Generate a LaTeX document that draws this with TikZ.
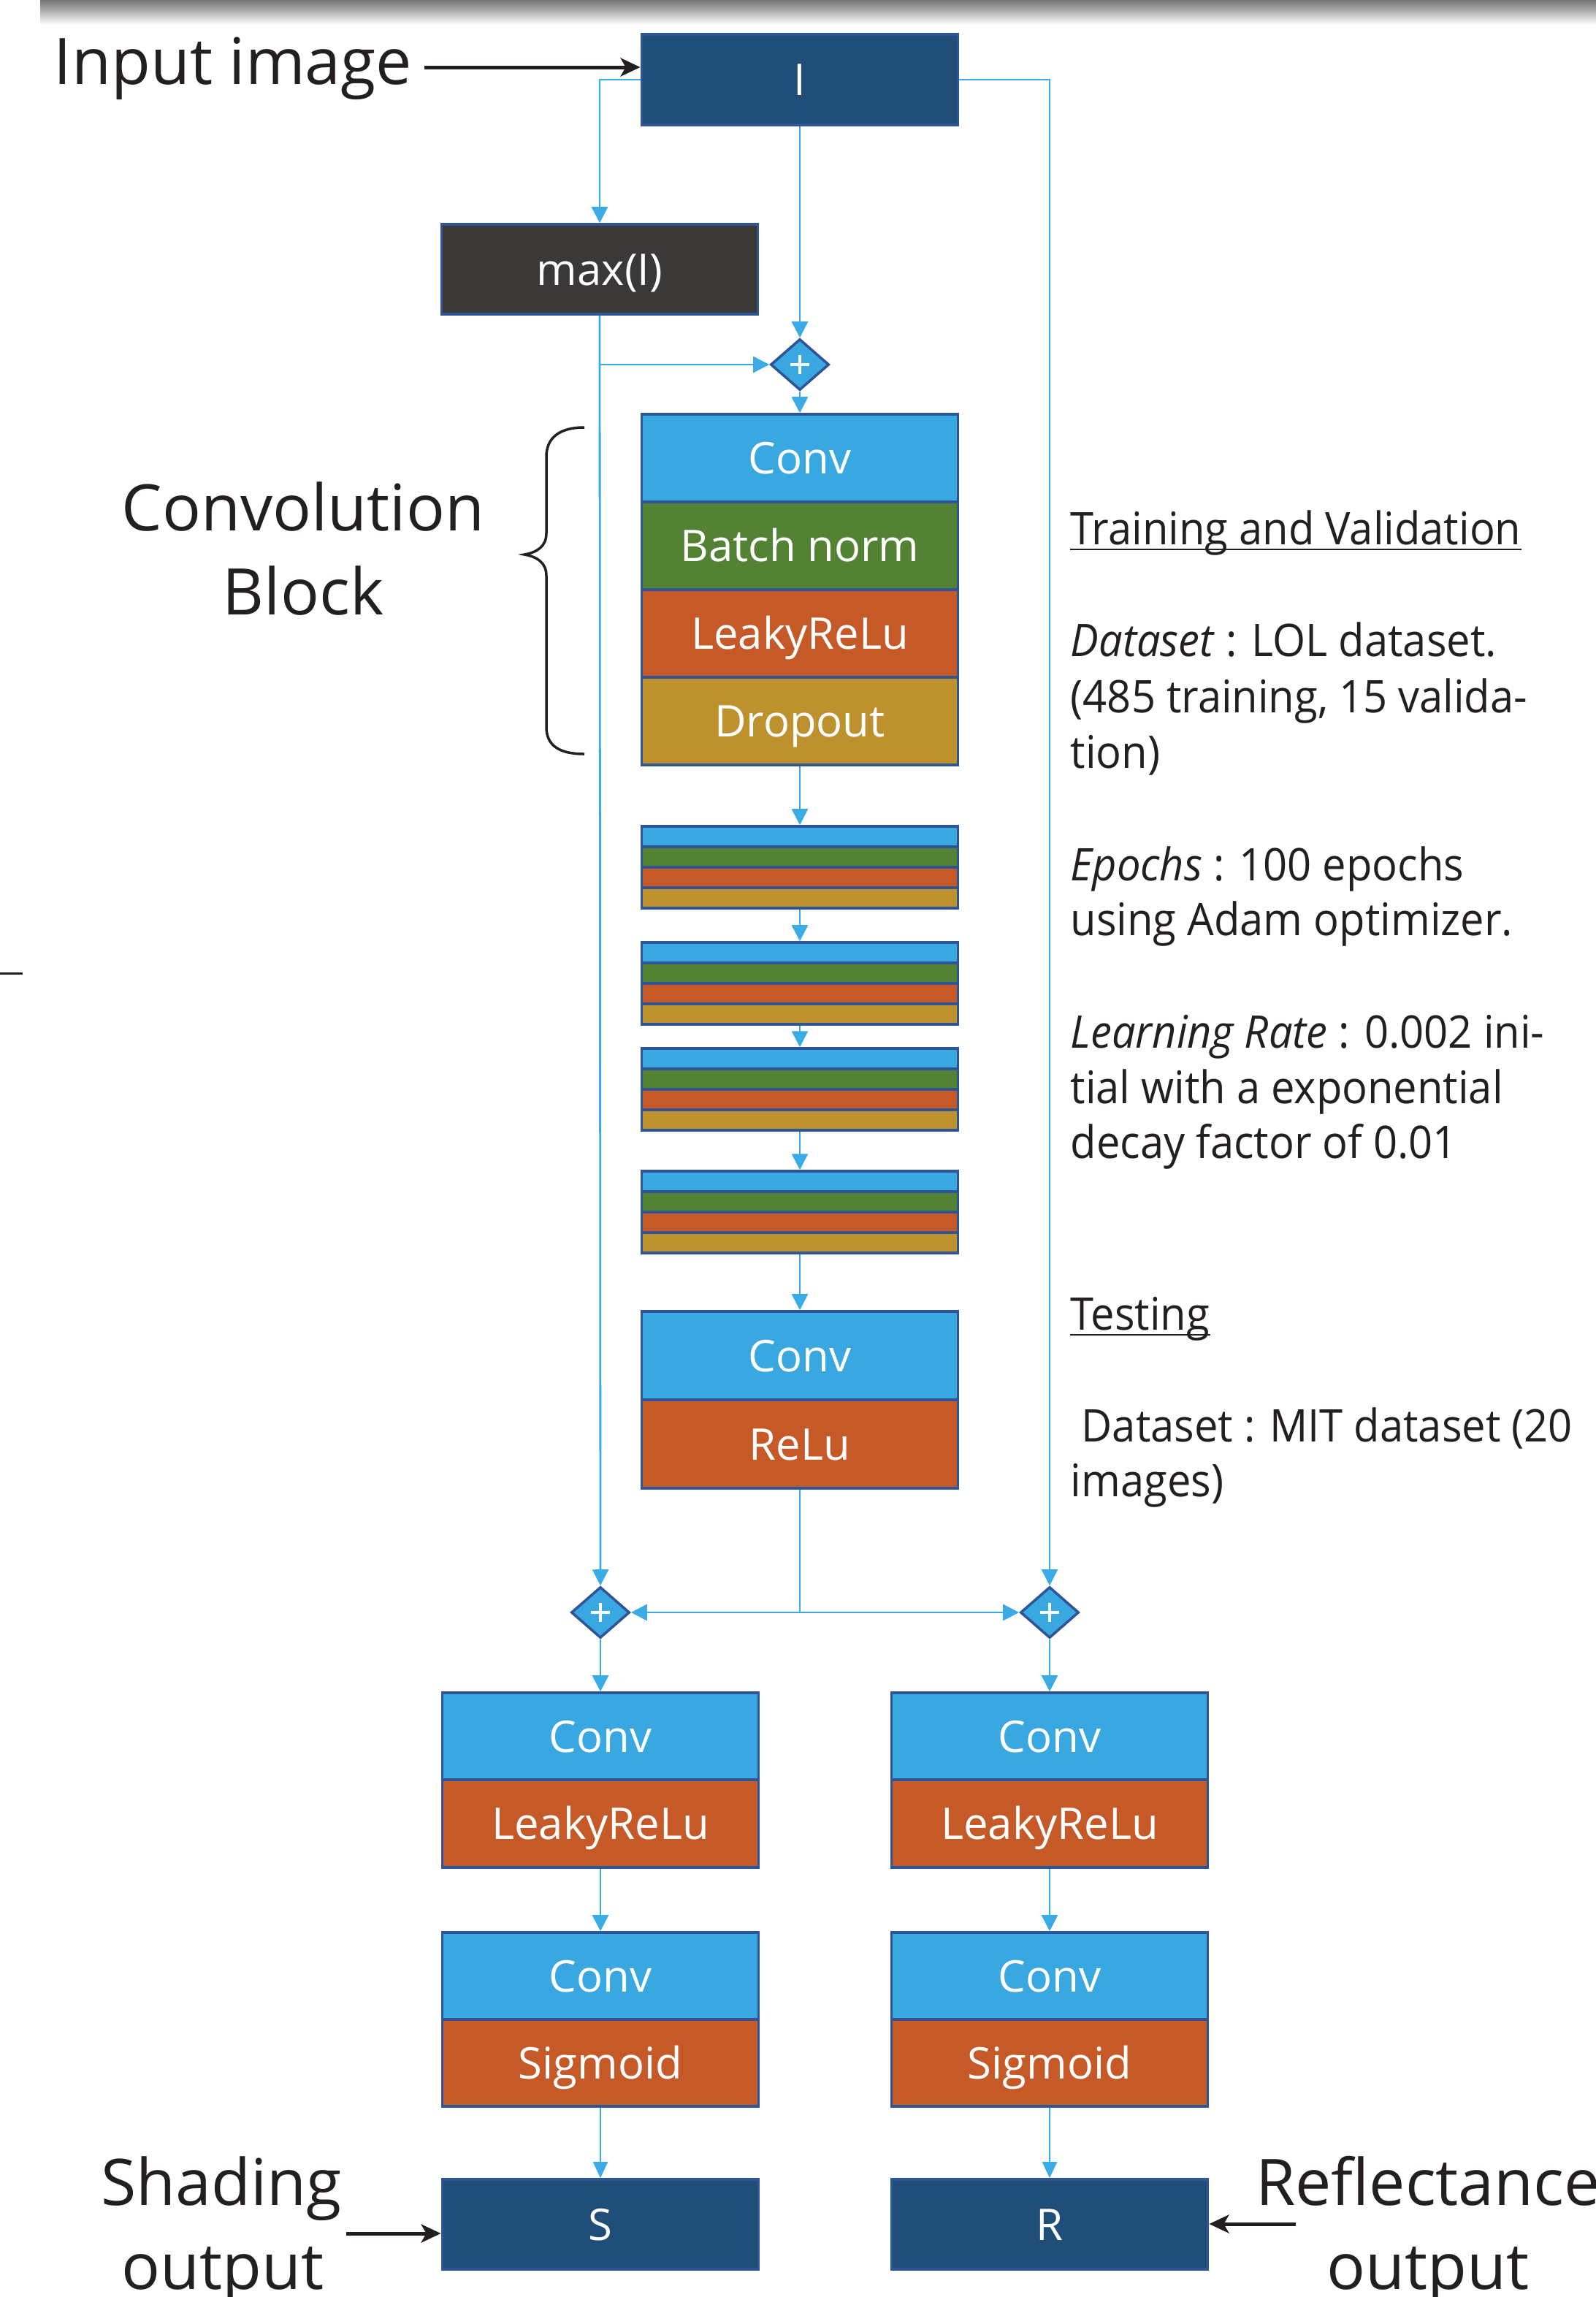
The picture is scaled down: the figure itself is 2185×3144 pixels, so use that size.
\documentclass[tikz,border=0pt]{standalone}
\usepackage{fontspec}
\setmainfont{Open Sans}
\newfontfamily\rtfont[FakeStretch=0.94]{Open Sans}
\usetikzlibrary{arrows.meta,shapes.geometric,calc}

\definecolor{navy}{HTML}{1F4E79}
\definecolor{darkbox}{HTML}{3B3838}
\definecolor{cblue}{HTML}{3AA8E0}
\definecolor{bngreen}{HTML}{548235}
\definecolor{lrorange}{HTML}{C55A28}
\definecolor{dgold}{HTML}{BE912F}
\definecolor{edge}{HTML}{2F5597}
\definecolor{wirec}{HTML}{3AABE4}
\definecolor{ink}{HTML}{231F20}

\tikzset{
  cell/.style={draw=edge, line width=0.035cm, minimum width=4.33cm, inner sep=0pt},
  layer/.style={cell, text=white, font=\fontsize{17pt}{20pt}\selectfont, text height=0.43cm, text depth=0pt},
  mini/.style={cell, minimum height=0.28cm, text height=0pt, text depth=0pt},
  plusnode/.style={shape=diamond, draw=edge, line width=0.035cm, fill=cblue, minimum width=0.8cm, minimum height=0.7cm, inner sep=0pt},
  wire/.style={draw=wirec, line width=0.028cm, -{Triangle[length=0.22cm,width=0.22cm]}},
  wireplain/.style={draw=wirec, line width=0.028cm},
  wirethin/.style={draw=wirec, line width=0.02cm, -{Triangle[length=0.22cm,width=0.2cm]}},
  blk/.style={draw=ink, line width=0.05cm, -{Stealth[length=0.27cm,width=0.25cm,inset=0.07cm]}},
  bigtxt/.style={inner sep=0pt, text=ink, font=\fontsize{25pt}{30pt}\selectfont},
  rtxt/.style={inner sep=0pt, text=ink, anchor=base west, font=\rtfont\fontsize{17.5pt}{21pt}\selectfont},
}

\begin{document}
\begin{tikzpicture}[x=0.01cm,y=-0.01cm]
\useasboundingbox (0,0) rectangle (2185,3144);
\shade[top color=black!55, bottom color=white] (55,0) rectangle (2185,34);

% main column
\node[layer, fill=navy, minimum height=1.24cm] (I) at (1095,109) {I};
\node[layer, fill=darkbox, minimum height=1.23cm] (max) at (821,368.5) {max(I)};
\node[plusnode] (p1) at (1095,499) {};

\node[layer, fill=cblue, minimum height=1.2cm] (c1) at (1095,627) {Conv};
\node[layer, fill=bngreen, minimum height=1.2cm] (c2) at (1095,747) {Batch norm};
\node[layer, fill=lrorange, minimum height=1.2cm] (c3) at (1095,867) {LeakyReLu};
\node[layer, fill=dgold, minimum height=1.2cm] (c4) at (1095,987) {Dropout};

\foreach \blk/\ty in {1/1131, 2/1290, 3/1435, 4/1603} {
  \node[mini, fill=cblue] (m\blk-a) at (1095,\ty+14) {};
  \node[mini, fill=bngreen] (m\blk-b) at (1095,\ty+42) {};
  \node[mini, fill=lrorange] (m\blk-c) at (1095,\ty+70) {};
  \node[mini, fill=dgold] (m\blk-d) at (1095,\ty+98) {};
}

\node[layer, fill=cblue, minimum height=1.21cm] (c5) at (1095,1855.5) {Conv};
\node[layer, fill=lrorange, minimum height=1.21cm] (c6) at (1095,1976.5) {ReLu};

\node[plusnode] (p2) at (822,2207) {};
\node[plusnode] (p3) at (1437,2207) {};

% lower branches
\node[layer, fill=cblue, minimum height=1.19cm] (l1) at (822,2376.5) {Conv};
\node[layer, fill=lrorange, minimum height=1.2cm] (l2) at (822,2496) {LeakyReLu};
\node[layer, fill=cblue, minimum height=1.19cm] (l3) at (822,2704.5) {Conv};
\node[layer, fill=lrorange, minimum height=1.19cm] (l4) at (822,2823.5) {Sigmoid};
\node[layer, fill=navy, minimum height=1.23cm] (S) at (822,3044.5) {S};

\node[layer, fill=cblue, minimum height=1.19cm] (r1) at (1437,2376.5) {Conv};
\node[layer, fill=lrorange, minimum height=1.2cm] (r2) at (1437,2496) {LeakyReLu};
\node[layer, fill=cblue, minimum height=1.19cm] (r3) at (1437,2704.5) {Conv};
\node[layer, fill=lrorange, minimum height=1.19cm] (r4) at (1437,2823.5) {Sigmoid};
\node[layer, fill=navy, minimum height=1.23cm] (R) at (1437,3044.5) {R};

% plus signs
\foreach \p in {p1,p2,p3} {
  \draw[white, line width=0.04cm] ($(\p)+(-13,0)$) -- ($(\p)+(13,0)$) ($(\p)+(0,-13)$) -- ($(\p)+(0,13)$);
}

% connectors
\draw[wire] (I.west) -| (max.north);
\draw[wire] (I.south) -- (p1.north);
\draw[wire] (max.south) |- (p1.west);
\draw[wire] (max.south) -- (p2.north);
\draw[wire] (I.east) -| (p3.north);
\draw[wire] (p1.south) -- (c1.north);
\draw[wire] (c4.south) -- (m1-a.north);
\draw[wire] (m1-d.south) -- (m2-a.north);
\draw[wire] (m2-d.south) -- (m3-a.north);
\draw[wire] (m3-d.south) -- (m4-a.north);
\draw[wire] (m4-d.south) -- (c5.north);
\coordinate (j) at (c6.south |- p2.east);
\draw[wireplain] (c6.south) -- (j);
\draw[wire] (j) -- (p2.east);
\draw[wire] (j) -- (p3.west);
\draw[wire] (p2.south) -- (l1.north);
\draw[wire] (p3.south) -- (r1.north);
\draw[wire] (l2.south) -- (l3.north);
\draw[wire] (r2.south) -- (r3.north);
\draw[wirethin] (l4.south) -- (S.north);
\draw[wirethin] (r4.south) -- (R.north);

% brace
\draw[ink, line width=0.035cm] (800,585) .. controls (765,585) and (748,600) .. (748,625) -- (748,730) .. controls (748,748) and (735,756) .. (718,759) .. controls (735,762) and (748,770) .. (748,788) -- (748,995) .. controls (748,1020) and (765,1032) .. (800,1032);

% left labels
\node[bigtxt, anchor=base west] (inlbl) at (73,115) {Input image};
\coordinate (inA) at (581,92);
\draw[blk] (inA) -- (inA -| I.west);
\node[bigtxt, anchor=base] (cbt1) at (415,726) {Convolution};
\node[bigtxt, anchor=base] (cbt2) at (415,841) {Block};
\node[bigtxt, anchor=base] (sh1) at (303,3018) {Shading};
\node[bigtxt, anchor=base] (sh2) at (305,3133) {output};
\coordinate (shA) at (474,3057);
\draw[blk] (shA) -- (shA -| S.west);
\node[bigtxt, anchor=base] (rf1) at (1955,3018) {Reflectance};
\node[bigtxt, anchor=base] (rf2) at (1955,3133) {output};
\coordinate (reA) at (1774,3044);
\draw[blk] (reA) -- (reA -| R.east);

% stray mark
\draw[ink, line width=0.03cm] (0,1332) -- (31,1332);

% right text
\node[rtxt] (th) at (1465,745) {Training and Validation};
\draw[ink, line width=0.02cm] ([yshift=-0.07cm]th.base west) -- ([yshift=-0.07cm]th.base east);
\node[rtxt] (ds1) at (1465,898) {\textit{Dataset} : LOL dataset.};
\node[rtxt] (ds2) at (1465,975) {(485 training, 15 valida-};
\node[rtxt] (ds3) at (1465,1051) {tion)};
\node[rtxt] (ep1) at (1465,1205) {\textit{Epochs} : 100 epochs};
\node[rtxt] (ep2) at (1465,1280) {using Adam optimizer.};
\node[rtxt] (lr1) at (1465,1434) {\textit{Learning Rate} : 0.002 ini-};
\node[rtxt] (lr2) at (1465,1510) {tial with a exponential};
\node[rtxt] (lr3) at (1465,1585) {decay factor of 0.01};
\node[rtxt] (ts) at (1465,1820) {Testing};
\draw[ink, line width=0.02cm] ([yshift=-0.07cm]ts.base west) -- ([yshift=-0.07cm]ts.base east);
\node[rtxt] (td1) at (1480,1973) {Dataset : MIT dataset (20};
\node[rtxt] (td2) at (1465,2048) {images)};
\end{tikzpicture}
\end{document}
